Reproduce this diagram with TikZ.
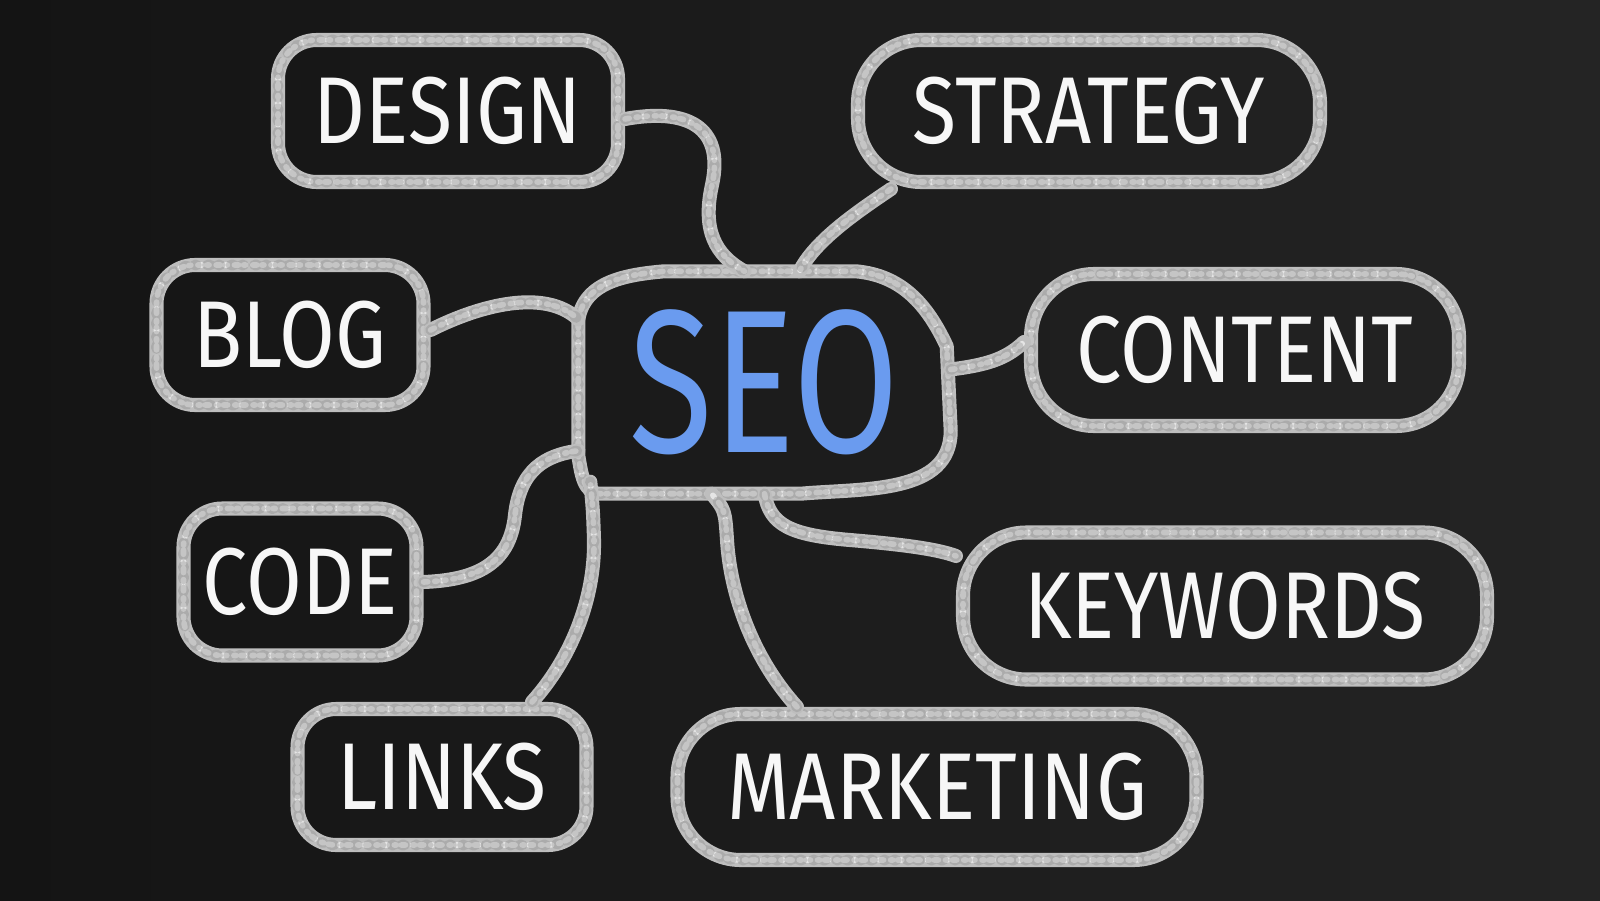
\documentclass[tikz,border=0pt]{standalone}
\usepackage{fontspec}
\newfontfamily\chalkfont[FakeStretch=0.85]{Fira Sans}
\newfontfamily\seofont[FakeStretch=0.75]{Fira Sans}
\definecolor{boardleft}{HTML}{141414}
\definecolor{boardright}{HTML}{242424}
\definecolor{chalkline}{HTML}{BEBEBE}
\definecolor{chalkdust}{HTML}{8A8A8A}
\definecolor{chalktext}{HTML}{F7F7F7}
\definecolor{seoblue}{HTML}{6A9BEF}
\begin{document}
\begin{tikzpicture}[
    chalk/.style = {draw=chalkline, line width=4pt, line cap=round, line join=round,
        postaction={draw=white, line width=1.6pt, opacity=0.6, dash pattern=on 1.2pt off 2pt on 0.6pt off 1.4pt},
        postaction={draw=chalkdust, line width=3pt, opacity=0.35, dash pattern=on 0.5pt off 2.3pt on 0.8pt off 3.1pt}},
    main/.style = {chalk, rectangle, rounded corners=11pt, inner sep=0pt, text=chalktext,
        font=\chalkfont\fontsize{27pt}{30pt}\selectfont},
    pill/.style = {main, rounded corners=18pt}]
    \useasboundingbox (0,0) rectangle (16,9);
    \shade[left color=boardleft, right color=boardright] (0,0) rectangle (16,9);

    \node[main, minimum width=3.40cm, minimum height=1.42cm] (design) at (4.48, 7.89) {DESIGN};
    \node[pill, minimum width=4.62cm, minimum height=1.42cm] (strategy) at (10.89, 7.89) {STRATEGY};
    \node[main, minimum width=2.67cm, minimum height=1.40cm] (blog) at (2.90, 5.65) {BLOG};
    \node[pill, minimum width=4.28cm, minimum height=1.52cm] (content) at (12.45, 5.50) {CONTENT};
    \node[main, minimum width=2.33cm, minimum height=1.47cm] (code) at (3.00, 3.18) {CODE};
    \node[pill, minimum width=5.24cm, minimum height=1.47cm] (keywords) at (12.25, 2.94) {KEYWORDS};
    \node[main, minimum width=2.89cm, minimum height=1.36cm] (links) at (4.42, 1.23) {LINKS};
    \node[pill, minimum width=5.19cm, minimum height=1.46cm] (marketing) at (9.37, 1.13) {MARKETING};

    \node[minimum width=3.71cm, minimum height=2.21cm, inner sep=0pt, text=seoblue,
        font=\seofont\fontsize{58pt}{60pt}\selectfont] (seo) at (7.645, 5.175) {SEO};
    \draw[chalk] ([yshift=0.38cm]seo.south west) -- ([yshift=-0.48cm]seo.north west)
        to[out=80, in=185] ([xshift=0.86cm]seo.north west) -- ([xshift=-0.95cm]seo.north east)
        to[out=-5, in=115] ([xshift=-0.04cm, yshift=-0.75cm]seo.north east) -- ([yshift=0.63cm]seo.south east)
        to[out=-90, in=5] ([xshift=-1.5cm]seo.south east) -- ([xshift=0.22cm]seo.south west)
        to[out=180, in=-80] ([yshift=0.38cm]seo.south west);

    \draw[chalk] ([yshift=-0.08cm]design.east) .. controls (6.85,7.92) and (7.25,7.75) .. (7.12,7.15)
        .. controls (7.02,6.7) and (7.15,6.45) .. ([xshift=-0.2cm]seo.north);
    \draw[chalk] ([xshift=0.4cm]strategy.south west) .. controls (8.6,6.9) and (8.15,6.6) .. ([xshift=0.35cm]seo.north);
    \draw[chalk] ([yshift=0.05cm]blog.east) .. controls (4.8,5.95) and (5.45,6.12) .. ([yshift=-0.48cm]seo.north west);
    \draw[chalk] ([yshift=0.13cm]seo.east) .. controls (9.85,5.35) and (10.05,5.4) .. ([yshift=0.08cm]content.west);
    \draw[chalk] (code.east) .. controls (4.75,3.2) and (5.1,3.35) .. (5.15,3.85)
        .. controls (5.2,4.3) and (5.45,4.45) .. ([yshift=0.43cm]seo.south west);
    \draw[chalk] ([xshift=0.9cm]links.north) .. controls (5.7,2.4) and (5.95,3.0) .. (5.94,3.6)
        .. controls (5.93,3.9) .. ([xshift=0.12cm, yshift=0.12cm]seo.south west);
    \draw[chalk] ([xshift=-1.4cm]marketing.north) .. controls (7.5,2.45) and (7.3,3.1) .. (7.27,3.6)
        .. controls (7.25,3.9) .. ([xshift=-0.53cm]seo.south);
    \draw[chalk] (seo.south) .. controls (7.7,3.75) and (7.9,3.65) .. (8.5,3.6)
        .. controls (9.1,3.55) and (9.4,3.5) .. ([yshift=0.5cm]keywords.west);
\end{tikzpicture}
\end{document}
